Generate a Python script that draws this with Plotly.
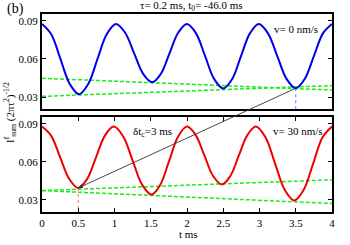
import plotly.graph_objects as go

# ---- data ----
t_blue = [0, 0.1275, 0.255, 0.3825, 0.51, 0.6375, 0.765, 0.8925, 1.02,
          1.145, 1.27, 1.395, 1.52, 1.64, 1.76, 1.88, 2.00,
          2.125, 2.25, 2.375, 2.50, 2.6225, 2.745, 2.8675, 2.99,
          3.1175, 3.245, 3.3725, 3.50, 3.625, 3.75, 3.875, 4.00]
i_blue = [0.0876, 0.0795, 0.0599, 0.0403, 0.0322, 0.0403, 0.0599, 0.0795, 0.0876,
          0.0809, 0.0646, 0.0483, 0.0416, 0.0483, 0.0646, 0.0809, 0.0876,
          0.0802, 0.0622, 0.0441, 0.0367, 0.0441, 0.0622, 0.0802, 0.0876,
          0.0802, 0.0623, 0.0443, 0.0369, 0.0443, 0.0623, 0.0802, 0.0876]

t_red = [0, 0.125, 0.25, 0.375, 0.50, 0.6225, 0.745, 0.8675, 0.99,
         1.12, 1.25, 1.38, 1.51, 1.6325, 1.755, 1.8775, 2.00,
         2.12, 2.24, 2.36, 2.48, 2.5975, 2.715, 2.8325, 2.95,
         3.0825, 3.215, 3.3475, 3.48, 3.61, 3.74, 3.87, 4.00]
i_red = [0.0879, 0.0808, 0.0637, 0.0466, 0.0395, 0.0466, 0.0637, 0.0808, 0.0879,
         0.0801, 0.0611, 0.0421, 0.0343, 0.0421, 0.0611, 0.0801, 0.0879,
         0.0812, 0.0651, 0.0489, 0.0422, 0.0489, 0.0651, 0.0812, 0.0879,
         0.0794, 0.0587, 0.0380, 0.0295, 0.0380, 0.0587, 0.0794, 0.0879]

t_env = [0, 4]
top_env_down = [0.0448, 0.0355]
top_env_up = [0.0305, 0.0390]
bot_env_up = [0.0374, 0.0459]
bot_env_down = [0.0374, 0.0272]

# marked minima: (t, value)
mark_top = (3.5, 0.0369)
mark_bot = (0.5, 0.0395)

x_ticks = [0, 0.5, 1, 1.5, 2, 2.5, 3, 3.5, 4]
x_ticktext = ["0", "0.5", "1", "1.5", "2", "2.5", "3", "3.5", "4"]
y_ticks = [0.03, 0.06, 0.09]
y_ticktext = ["0.03", "0.06", "0.09"]

X_RANGE = [0, 4]
Y_RANGE = [0.0205, 0.0955]

# ---- layout geometry ----
W, H = 350, 245
ML, MR, MT, MB = 42, 18, 14, 33
PW, PH = W - ML - MR, H - MT - MB
DOM_TOP = [0.52, 1.0]
DOM_BOT = [0.0, 0.48]
FONT = "Liberation Serif"
GREEN = "#19ee19"


def px_x(t):
    return ML + (t - X_RANGE[0]) / (X_RANGE[1] - X_RANGE[0]) * PW


def px_y(v, dom):
    frac = dom[0] + (v - Y_RANGE[0]) / (Y_RANGE[1] - Y_RANGE[0]) * (dom[1] - dom[0])
    return MT + (1 - frac) * PH


def paper_x(px):
    return (px - ML) / PW


def paper_y(py):
    return 1 - (py - MT) / PH


fig = go.Figure()

# top panel
fig.add_trace(go.Scatter(x=t_env, y=top_env_down, mode="lines",
                         line=dict(color=GREEN, width=1.5, dash="4px,2px"), xaxis="x", yaxis="y"))
fig.add_trace(go.Scatter(x=t_env, y=top_env_up, mode="lines",
                         line=dict(color=GREEN, width=1.5, dash="4px,2px"), xaxis="x", yaxis="y"))
fig.add_trace(go.Scatter(x=[mark_top[0], mark_top[0]], y=[mark_top[1], Y_RANGE[0]], mode="lines",
                         line=dict(color="#6f6fff", width=1, dash="dot"), xaxis="x", yaxis="y"))
fig.add_trace(go.Scatter(x=t_blue, y=i_blue, mode="lines",
                         line=dict(color="#0000ee", width=2, shape="spline"), xaxis="x", yaxis="y"))

# bottom panel
fig.add_trace(go.Scatter(x=t_env, y=bot_env_up, mode="lines",
                         line=dict(color=GREEN, width=1.5, dash="4px,2px"), xaxis="x2", yaxis="y2"))
fig.add_trace(go.Scatter(x=t_env, y=bot_env_down, mode="lines",
                         line=dict(color=GREEN, width=1.5, dash="4px,2px"), xaxis="x2", yaxis="y2"))
fig.add_trace(go.Scatter(x=[mark_bot[0], mark_bot[0]], y=[mark_bot[1], Y_RANGE[0]], mode="lines",
                         line=dict(color="#ff6f6f", width=1, dash="dot"), xaxis="x2", yaxis="y2"))
fig.add_trace(go.Scatter(x=t_red, y=i_red, mode="lines",
                         line=dict(color="#ee0000", width=2, shape="spline"), xaxis="x2", yaxis="y2"))

axis_common = dict(range=X_RANGE, showline=True, linecolor="black", linewidth=2,
                   showgrid=False, zeroline=False, tickvals=x_ticks, ticktext=x_ticktext,
                   tickfont=dict(family=FONT, size=11, color="black"))
yaxis_common = dict(range=Y_RANGE, showline=True, linecolor="black", linewidth=2,
                    showgrid=False, zeroline=False, tickvals=y_ticks, ticktext=y_ticktext,
                    ticks="inside", ticklen=4, tickwidth=1, tickcolor="black", mirror="ticks",
                    tickfont=dict(family=FONT, size=11, color="black"))

# arrow from top-panel minimum to bottom-panel minimum
head_x, head_y = px_x(mark_bot[0]), px_y(mark_bot[1], DOM_BOT)
tail_x, tail_y = px_x(mark_top[0]), px_y(mark_top[1], DOM_TOP)


def label(px, py, text, size=11, angle=0):
    return dict(x=paper_x(px), y=paper_y(py), xref="paper", yref="paper", text=text,
                xanchor="center", yanchor="middle", textangle=angle, showarrow=False,
                font=dict(family=FONT, size=size, color="black"))


annotations = [
    dict(x=mark_bot[0], y=mark_bot[1], xref="x2", yref="y2", text="",
         showarrow=True, axref="pixel", ayref="pixel",
         ax=tail_x - head_x, ay=tail_y - head_y,
         arrowhead=2, arrowsize=1, arrowwidth=0.9, arrowcolor="#333333", standoff=0),
    label(15, 9, "(b)", size=14),
    label(191, 6, "τ= 0.2 ms, t<sub>0</sub>= -46.0 ms", size=11),
    label(296, 29, "v= 0 nm/s"),
    label(298, 131, "v= 30 nm/s"),
    label(152, 132, "δt<sub>c</sub>=3 ms"),
    label(188, 234, "t ms"),
    label(10, 113, "I<sup>f</sup><sub>sum</sub> (2πτ<sup>2</sup>)<sup>-1/2</sup>", angle=-90),
]

fig.update_layout(
    width=W, height=H,
    margin=dict(l=ML, r=MR, t=MT, b=MB),
    paper_bgcolor="white", plot_bgcolor="white",
    showlegend=False,
    hovermode=False,
    xaxis=dict(axis_common, domain=[0, 1], anchor="y", showticklabels=False,
               ticks="", mirror=True),
    yaxis=dict(yaxis_common, domain=DOM_TOP, anchor="x"),
    xaxis2=dict(axis_common, domain=[0, 1], anchor="y2", ticks="inside", ticklen=4,
                tickwidth=1, tickcolor="black", mirror="ticks"),
    yaxis2=dict(yaxis_common, domain=DOM_BOT, anchor="x2"),
    annotations=annotations,
)

fig.write_html("out.html", config={"displayModeBar": False},
               post_script="document.body.style.margin='0';")
